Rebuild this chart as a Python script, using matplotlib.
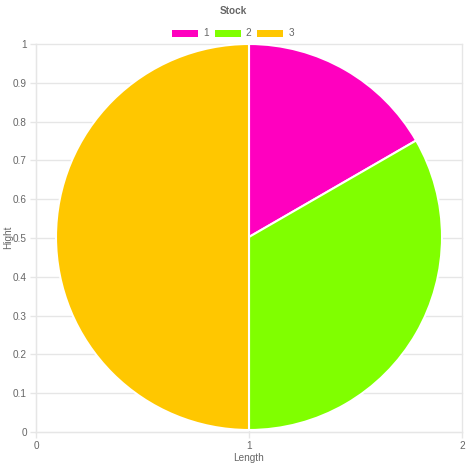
import matplotlib
matplotlib.use("Agg")
import matplotlib.pyplot as plt
from matplotlib.patches import Patch

plt.rcParams["font.family"] = ["Liberation Sans", "DejaVu Sans"]

labels = ["1", "2", "3"]
values = [1, 2, 3]
colors = ["#ff00bf", "#80ff00", "#ffc700"]
x_ticks = [0, 1, 2]
y_ticks = [0, 0.1, 0.2, 0.3, 0.4, 0.5, 0.6, 0.7, 0.8, 0.9, 1]

W = 466
fig = plt.figure(figsize=(W / 100, W / 100), dpi=100)

grid = "#e6e6e6"
text = "#666666"

# cartesian frame behind the pie
ax = fig.add_axes([36 / W, 34 / W, 426 / W, 388 / W])
ax.set_xlim(0, 2)
ax.set_ylim(0, 1)
ax.set_xticks(x_ticks)
ax.set_yticks(y_ticks)
ax.set_yticklabels([f"{t:g}" for t in y_ticks])
ax.grid(True, color=grid, linewidth=1)
for line in ax.get_xgridlines() + ax.get_ygridlines():
    line.set_clip_on(False)
for side in ["top", "right"]:
    ax.spines[side].set_visible(False)
for side in ["left", "bottom"]:
    ax.spines[side].set_color(grid)
ax.tick_params(colors=grid, labelcolor=text, labelsize=7.2, length=4.5, width=1, pad=2)
ax.set_axisbelow(True)

fig.text(249 / W, 1 - 458 / W, "Length", ha="center", va="center",
         color=text, fontsize=7.2)
fig.text(8 / W, 1 - 237 / W, "Hight", ha="center", va="center",
         color=text, fontsize=7.2, rotation=90)

# pie on its own square axes so it stays circular
r = 193
pax = fig.add_axes([(249 - r) / W, (W - 237 - r) / W, 2 * r / W, 2 * r / W])
pax.pie(values, colors=colors, startangle=90, counterclock=False, radius=1,
        wedgeprops=dict(edgecolor="white", linewidth=1.5))
pax.set_xlim(-1, 1)
pax.set_ylim(-1, 1)
pax.axis("off")

fig.text(233 / W, 1 - 11 / W, "Stock", ha="center", va="center",
         color=text, fontsize=7.2, fontweight="bold")
handles = [Patch(facecolor=c, edgecolor="none") for c in colors]
fig.legend(handles, labels, loc="center", bbox_to_anchor=(233 / W, 1 - 33.5 / W),
           ncol=3, frameon=False, fontsize=7.2, labelcolor=text,
           handlelength=2.6, handleheight=0.7, handletextpad=0.5, columnspacing=0.6)

fig.savefig("out.png", dpi=100, facecolor="white")
